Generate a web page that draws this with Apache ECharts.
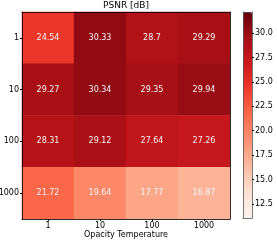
<!DOCTYPE html>
<html><head><meta charset="utf-8">
<script src="https://cdn.jsdelivr.net/npm/echarts@6/dist/echarts.min.js"></script>
<style>html,body{margin:0;padding:0;background:#fff}#c{width:277px;height:240px}</style>
</head><body><div id="c"></div>
<script>
var xCategories = ['1','10','100','1000'];
var yCategories = ['1','10','100','1000'];
var row1 = [24.54, 30.33, 28.7, 29.29];
var row10 = [29.27, 30.34, 29.35, 29.94];
var row100 = [28.31, 29.12, 27.64, 27.26];
var row1000 = [21.72, 19.64, 17.77, 16.87];
var colorbarTicks = [12.5, 15.0, 17.5, 20.0, 22.5, 25.0, 27.5, 30.0];
var colorMin = 11.07, colorMax = 32.15;
var reds = ['#fff5f0','#fee0d2','#fcbba1','#fc9272','#fb6a4a','#ef3b2c','#cb181d','#a50f15','#67000d'];

var rows = [row1, row10, row100, row1000];
var data = [];
rows.forEach(function(r, yi){ r.forEach(function(v, xi){ data.push([xi, yi, v]); }); });

var font = 'DejaVu Sans';
var chart = echarts.init(document.getElementById('c'), null, {renderer:'canvas'});
chart.setOption({
  animation:false,
  textStyle:{fontFamily:font},
  title:[
    {text:'PSNR [dB]', left:126, top:1, textAlign:'center', padding:0, textStyle:{fontFamily:font, fontSize:9, fontWeight:'normal', color:'#000'}},
    {text:'Opacity Temperature', left:126, top:231, textAlign:'center', padding:0, textStyle:{fontFamily:font, fontSize:8, fontWeight:'normal', color:'#000'}}
  ],
  grid:[
    {left:22, top:12, width:208, height:207, outerBoundsMode:'none', containLabel:false},
    {left:243, top:12, width:9, height:206, outerBoundsMode:'none', containLabel:false}
  ],
  xAxis:[
    {type:'category', gridIndex:0, data:xCategories, position:'bottom',
     axisLine:{show:true, lineStyle:{color:'#000', width:0.8}}, axisTick:{show:true, alignWithLabel:true, length:2, lineStyle:{color:'#000'}},
     axisLabel:{fontFamily:font, fontSize:8, color:'#000', margin:3}, splitLine:{show:false}, z:10},
    {type:'category', gridIndex:0, data:xCategories, position:'top', axisLine:{show:true, lineStyle:{color:'#000', width:0.8}}, axisTick:{show:false}, axisLabel:{show:false}, z:10},
    {type:'value', gridIndex:1, position:'bottom', axisLine:{show:true, onZero:false, lineStyle:{color:'#555', width:0.8}}, axisTick:{show:false}, axisLabel:{show:false}, splitLine:{show:false}, z:10},
    {type:'value', gridIndex:1, position:'top', axisLine:{show:true, onZero:false, lineStyle:{color:'#555', width:0.8}}, axisTick:{show:false}, axisLabel:{show:false}, splitLine:{show:false}, z:10}
  ],
  yAxis:[
    {type:'category', gridIndex:0, data:yCategories, inverse:true, position:'left',
     axisLine:{show:true, lineStyle:{color:'#000', width:0.8}}, axisTick:{show:true, alignWithLabel:true, length:2, lineStyle:{color:'#000'}},
     axisLabel:{fontFamily:font, fontSize:8, color:'#000', margin:3}, z:10},
    {type:'category', gridIndex:0, data:yCategories, inverse:true, position:'right', axisLine:{show:true, lineStyle:{color:'#000', width:0.8}}, axisTick:{show:false}, axisLabel:{show:false}, z:10},
    {type:'value', gridIndex:1, position:'right', min:colorMin, max:colorMax,
     axisLine:{show:true, onZero:false, lineStyle:{color:'#555', width:0.8}},
     axisTick:{show:true, length:2, customValues:colorbarTicks, lineStyle:{color:'#000'}},
     axisLabel:{fontFamily:font, fontSize:8, color:'#000', margin:3, customValues:colorbarTicks, formatter:function(v){return v.toFixed(1);}},
     splitLine:{show:false}, z:10},
    {type:'value', gridIndex:1, position:'left', min:colorMin, max:colorMax,
     axisLine:{show:true, onZero:false, lineStyle:{color:'#555', width:0.8}}, axisTick:{show:false}, axisLabel:{show:false}, splitLine:{show:false}, z:10}
  ],
  visualMap:{
    type:'continuous', min:colorMin, max:colorMax, calculable:false, hoverLink:false,
    orient:'vertical', left:243, top:12, itemWidth:9, itemHeight:206, padding:0,
    inRange:{color:reds}, seriesIndex:0, z:2
  },
  series:[{
    type:'heatmap', xAxisIndex:0, yAxisIndex:0, data:data,
    label:{show:true, color:'#f4f4f4', fontFamily:font, fontSize:8, formatter:function(p){return String(p.value[2]);}},
    itemStyle:{borderWidth:0}
  }]
});
</script></body></html>
